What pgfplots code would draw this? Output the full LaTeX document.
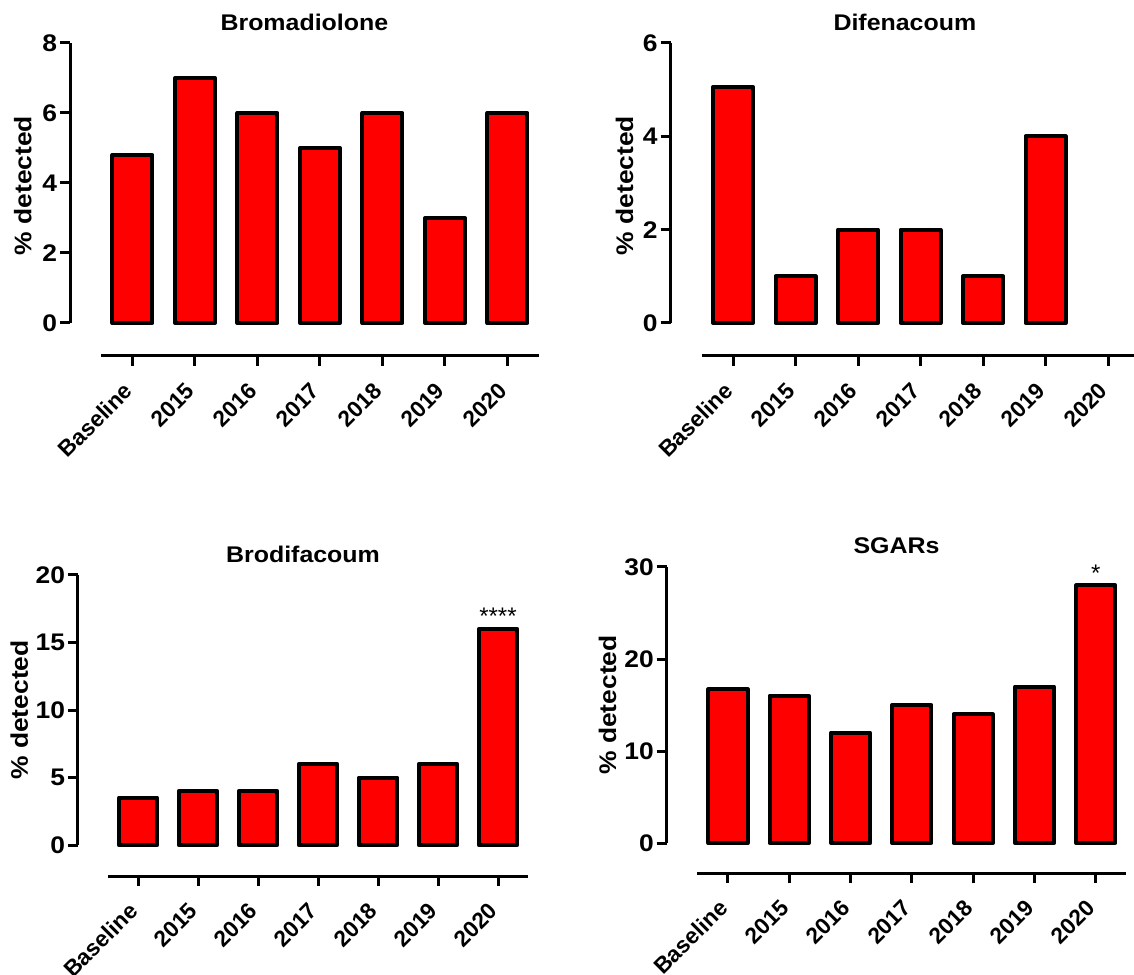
\documentclass[border=0pt]{standalone}
\usepackage{fontspec}
\setmainfont{Liberation Sans}[FakeStretch=1.1]
\newfontfamily\plainfont{Liberation Sans}
\usepackage{pgfplots}
\pgfplotsset{compat=1.18}
\pgfplotsset{
  prism/.style={
    scale only axis, clip=false,
    axis lines*=left,
    axis line style={draw=none},
    ybar, bar width=0.64,
    xmin=-1, xmax=6.5,
    xtick={0,...,6},
    xticklabels={Baseline,2015,2016,2017,2018,2019,2020},
    tick align=outside,
    major tick length=7.5pt,
    major tick style={line width=2.25pt, black},
    minor tick num=0,
    /pgf/number format/assume math mode=true,
    yticklabel style={font=\bfseries\fontsize{18}{18}\selectfont, anchor=east, inner sep=0pt, xshift=-2pt},
    xticklabel style={font=\plainfont\bfseries\fontsize{17}{17}\selectfont, inner sep=0pt, xshift=-7.75pt, yshift=-11.25pt, rotate=45, anchor=north east},
    title style={font=\bfseries\fontsize{17}{17}\selectfont, at={(0.5,1)}, anchor=base, inner sep=0pt, yshift=3pt},
    ylabel style={font=\bfseries\fontsize{18}{18}\selectfont, anchor=base, inner sep=0pt, rotate=0},
    ylabel={\% detected},
  },
  redbar/.style={fill=red, draw=black, line width=3pt, line join=round},
}
\begin{document}
\begin{tikzpicture}
\useasboundingbox (0,0) rectangle (850.5pt,730.5pt);
% Panel 1
\begin{axis}[prism, at={(52.5pt,463.5pt)}, anchor=south west,
  width=351.56pt, height=234.75pt, ymin=-0.943, ymax=8, ytick={0,2,4,6,8},
  title={Bromadiolone},
  ylabel style={at={([xshift=-29pt,yshift=-2pt]axis cs:-1,4)}}]
\addplot[redbar] coordinates {(0,4.8)(1,7)(2,6)(3,5)(4,6)(5,3)(6,6)};
\draw[line width=2.25pt] (axis cs:-1,0) -- (axis cs:-1,8);
\draw[line width=2.25pt] (axis cs:-0.5,-0.943) -- (axis cs:6.5,-0.943);
\end{axis}
% Panel 2
\begin{axis}[prism, at={(502.875pt,463.5pt)}, anchor=south west,
  width=351.56pt, height=234.75pt, ymin=-0.707, ymax=6, ytick={0,2,4,6},
  title={Difenacoum},
  ylabel style={at={([xshift=-28pt,yshift=-2pt]axis cs:-1,3)}}]
\addplot[redbar] coordinates {(0,5.06)(1,1)(2,2)(3,2)(4,1)(5,4)};
\draw[line width=2.25pt] (axis cs:-1,0) -- (axis cs:-1,6);
\draw[line width=2.25pt] (axis cs:-0.5,-0.707) -- (axis cs:6.5,-0.707);
\end{axis}
% Panel 3
\begin{axis}[prism, at={(58.5pt,73.5pt)}, anchor=south west,
  width=337.5pt, height=225.75pt, ymin=-2.296, ymax=20, ytick={0,5,10,15,20},
  title={Brodifacoum},
  ylabel style={at={([xshift=-37.5pt]axis cs:-1,10)}}]
\addplot[redbar] coordinates {(0,3.5)(1,4)(2,4)(3,6)(4,5)(5,6)(6,16)};
\node[font=\plainfont\fontsize{18}{18}\selectfont, anchor=base, inner sep=0pt, yshift=3pt] at (axis cs:6,16) {****};
\draw[line width=2.25pt] (axis cs:-1,0) -- (axis cs:-1,20);
\draw[line width=2.25pt] (axis cs:-0.5,-2.296) -- (axis cs:6.5,-2.296);
\end{axis}
% Panel 4
\begin{axis}[prism, at={(500pt,75.75pt)}, anchor=south west,
  width=344.8pt, height=229.5pt, ymin=-3.26, ymax=30, ytick={0,10,20,30},
  title={SGARs}, title style={yshift=1pt},
  ylabel style={at={([xshift=-38pt]axis cs:-1,15)}}]
\addplot[redbar] coordinates {(0,16.7)(1,16)(2,12)(3,15)(4,14)(5,17)(6,28)};
\node[font=\plainfont\fontsize{18}{18}\selectfont, anchor=base, inner sep=0pt, yshift=3pt] at (axis cs:6,28) {*};
\draw[line width=2.25pt] (axis cs:-1,0) -- (axis cs:-1,30);
\draw[line width=2.25pt] (axis cs:-0.5,-3.26) -- (axis cs:6.5,-3.26);
\end{axis}
\end{tikzpicture}
\end{document}
